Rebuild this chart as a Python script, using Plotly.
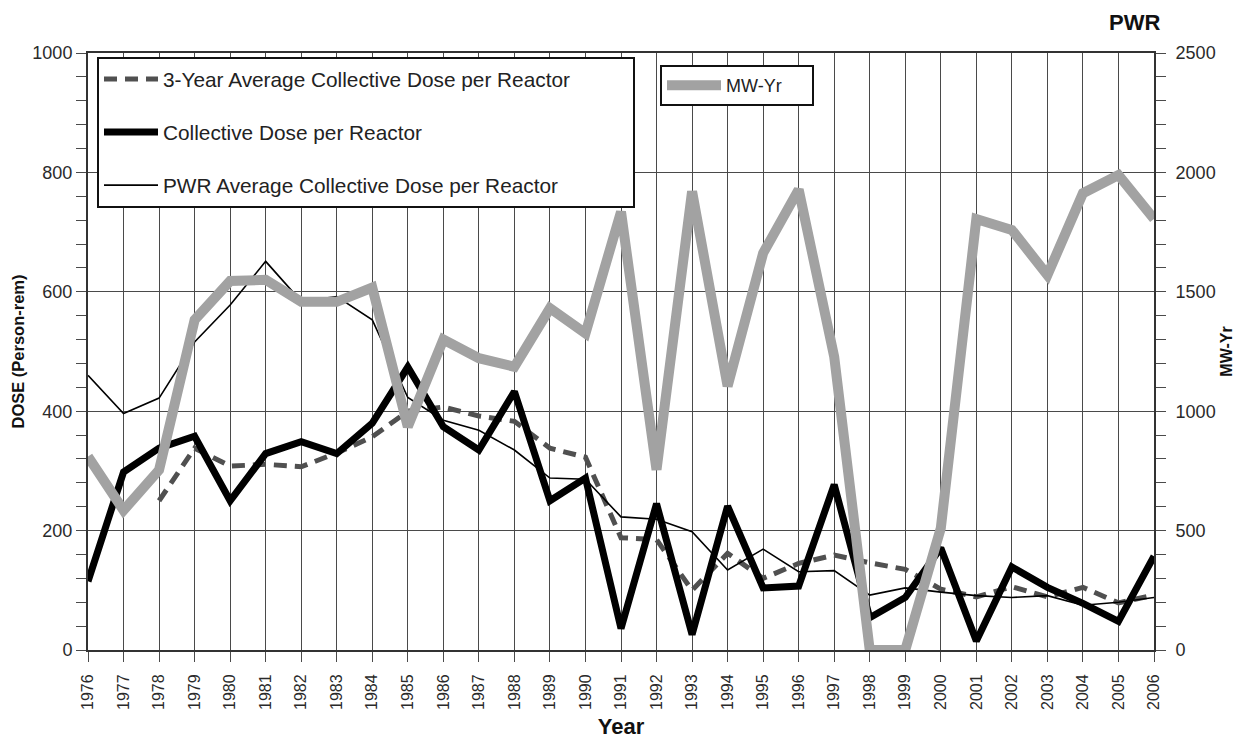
import plotly.graph_objects as go

years = list(range(1976, 2007))
collective_dose = [115, 298, 338, 358, 250, 329, 349, 329, 380, 474, 374, 335, 433, 250, 288,
                   36, 245, 26, 241, 104, 107, 277, 54, 88, 171, 15, 139, 105, 78, 48, 157]
avg3_dose = [None, None, 250, 338, 308, 311, 307, 330, 357, 400, 407, 392, 383, 338, 323,
             188, 185, 100, 162, 120, 145, 159, 146, 135, 102, 89, 106, 89, 105, 79, 92]
pwr_avg_dose = [460, 396, 422, 516, 578, 651, 584, 592, 553, 423, 385, 368, 335, 288, 286,
                223, 219, 198, 134, 169, 131, 133, 92, 104, 97, 91, 88, 91, 75, 80, 88]
mw_yr = [810, 585, 754, 1382, 1545, 1550, 1458, 1458, 1518, 935, 1300, 1222, 1186, 1431, 1326,
         1835, 755, 1920, 1105, 1662, 1928, 1228, 0, 0, 510, 1805, 1759, 1570, 1913, 1989, 1805]

FONT = "Arial, 'Liberation Sans', sans-serif"
GRID = "#4a4a4a"
PAD1 = "&nbsp;" * 10
PAD2 = "&nbsp;" * 5

fig = go.Figure()
fig.add_trace(go.Scatter(x=years, y=avg3_dose, mode="lines",
                         name="3-Year Average Collective Dose per Reactor" + PAD1,
                         line=dict(color="#505050", width=5, dash="13px,8px"), legend="legend",
                         legendgroup="a"))
fig.add_trace(go.Scatter(x=years, y=collective_dose, mode="lines", name="Collective Dose per Reactor",
                         line=dict(color="#000000", width=7), legend="legend", legendgroup="b"))
fig.add_trace(go.Scatter(x=years, y=pwr_avg_dose, mode="lines", name="PWR Average Collective Dose per Reactor",
                         line=dict(color="#000000", width=1.6), legend="legend", legendgroup="c"))
fig.add_trace(go.Scatter(x=years, y=mw_yr, mode="lines", name="MW-Yr" + PAD2, yaxis="y2",
                         line=dict(color="#a2a2a2", width=10), legend="legend2"))

fig.update_layout(
    width=1233, height=731,
    margin=dict(l=80, r=87, t=45, b=89, autoexpand=False),
    plot_bgcolor="white", paper_bgcolor="white",
    font=dict(family=FONT, color="#222222", size=17),
    showlegend=True,
    xaxis=dict(range=[1976, 2006], tickmode="array", tickvals=years, ticktext=[str(y) for y in years],
               tickangle=-90, tickfont=dict(size=16, color="#2a2a2a"), ticks="outside", ticklen=10,
               tickcolor=GRID, ticklabelstandoff=6,
               showgrid=True, gridcolor=GRID, gridwidth=1.3, showline=True, linecolor="#333333",
               linewidth=2, mirror=True, zeroline=False,
               title=dict(text="<b>Year</b>", font=dict(size=22, color="#111111"), standoff=16)),
    yaxis=dict(range=[0, 1000], tickmode="linear", tick0=0, dtick=200, ticks="outside", ticklen=10,
               tickcolor=GRID, showgrid=True, gridcolor=GRID, gridwidth=1.3, showline=True,
               linecolor="#333333", linewidth=2, zeroline=False, tickfont=dict(size=18, color="#2a2a2a"),
               minor=dict(dtick=40, ticks="outside", ticklen=10, tickcolor=GRID, showgrid=False),
               title=dict(text="<b>DOSE (Person-rem)</b>", font=dict(size=16.5, color="#111111"), standoff=4)),
    yaxis2=dict(range=[0, 2500], overlaying="y", side="right", tickmode="linear", tick0=0, dtick=500,
                ticks="outside", ticklen=10, tickcolor=GRID, showgrid=False, showline=True,
                linecolor="#333333", linewidth=2, zeroline=False, tickfont=dict(size=18, color="#2a2a2a"),
                ticklabelstandoff=6,
                minor=dict(dtick=100, ticks="outside", ticklen=10, tickcolor=GRID, showgrid=False),
                title=dict(text="<b>MW-Yr</b>", font=dict(size=16, color="#111111"), standoff=6)),
    legend=dict(x=(97 - 88) / 1066, y=(650 - 57) / 597, xanchor="left", yanchor="top",
                bgcolor="white", bordercolor="#111111", borderwidth=2, font=dict(size=20.8, color="#222222"),
                itemwidth=54, tracegroupgap=23, traceorder="grouped"),
    legend2=dict(x=(660 - 88) / 1066, y=(650 - 65) / 597, xanchor="left", yanchor="top",
                 bgcolor="white", bordercolor="#111111", borderwidth=2, font=dict(size=18, color="#222222"),
                 itemwidth=54),
    annotations=[dict(text="<b>PWR</b>", x=1.0, xref="paper", y=1.0, yref="paper", xanchor="right",
                      yanchor="bottom", xshift=8, yshift=16, showarrow=False,
                      font=dict(size=22, color="#111111"))],
)

fig.write_html("out.html")
